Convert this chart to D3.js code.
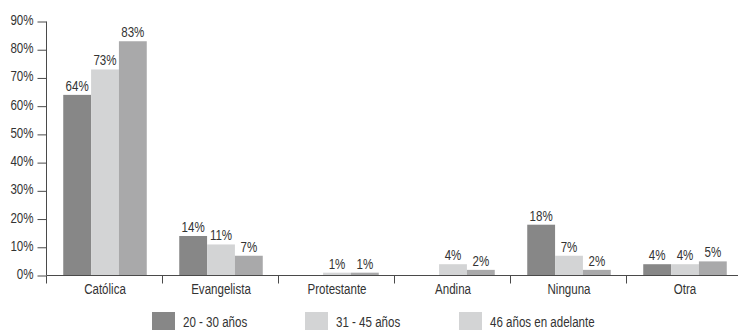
<!DOCTYPE html>
<html>
<head>
<meta charset="utf-8">
<script src="https://cdn.jsdelivr.net/npm/d3@7"></script>
<style>
  html, body { margin: 0; padding: 0; background: #fff; }
  svg { display: block; }
  text { font-family: "Liberation Sans", Arial, sans-serif; fill: #333; font-size: 15px; }
</style>
</head>
<body>
<svg id="chart" width="738" height="331"></svg>
<script>
// Religión por grupo de edad (porcentaje)
const categories = ["Católica", "Evangelista", "Protestante", "Andina", "Ninguna", "Otra"];
const seriesNames = ["20 - 30 años", "31 - 45 años", "46 años en adelante"];
const age20to30 = [64, 14, 0, 0, 18, 4];
const age31to45 = [73, 11, 1, 4, 7, 4];
const age46plus = [83, 7, 1, 2, 2, 5];
const yTicks = [0, 10, 20, 30, 40, 50, 60, 70, 80, 90];

const series = [age20to30, age31to45, age46plus];
const barColors = ["#878787", "#d3d4d5", "#a9a9aa"];
const legendColors = ["#878787", "#d3d4d5", "#d3d4d5"];

// condensed look: horizontally squeezed text
const squeeze = 0.77;
function placeText(sel, fx, fy) {
  sel.attr("x", 0).attr("y", 0)
     .attr("transform", (d, i) => `translate(${fx(d, i)},${fy(d, i)}) scale(${squeeze},1)`);
}

const svg = d3.select("#chart");
const x0 = 47, x1 = 743, yBase = 275.5, yTop = 21.5;

const x = d3.scaleBand().domain(categories).range([x0, x1]).paddingInner(0.28).paddingOuter(0.14);
const xs = d3.scaleBand().domain(d3.range(series.length)).range([0, x.bandwidth()]);
const y = d3.scaleLinear().domain([0, 90]).range([yBase, yTop]);

// bars and value labels
series.forEach((vals, si) => {
  const rows = categories.map((c, i) => ({ c, v: vals[i] })).filter(d => d.v > 0);
  const g = svg.append("g");
  g.selectAll("rect").data(rows).join("rect")
    .attr("x", d => x(d.c) + xs(si))
    .attr("y", d => y(d.v))
    .attr("width", xs.bandwidth())
    .attr("height", d => yBase - y(d.v))
    .attr("fill", barColors[si]);
  g.selectAll("text").data(rows).join("text")
    .attr("text-anchor", "middle")
    .call(placeText, d => x(d.c) + xs(si) + xs.bandwidth() / 2, d => y(d.v) - 4)
    .text(d => d.v + "%");
});

// y axis
const yAxis = d3.axisLeft(y).tickValues(yTicks).tickFormat(d => d + "%").tickSize(9).tickPadding(4);
const gy = svg.append("g").attr("transform", `translate(${x0 - 0.5},0)`).call(yAxis);
gy.select(".domain").attr("stroke", "#4a4a4a").attr("d", `M0,${yTop}V${yBase}`);
gy.selectAll(".tick line").attr("stroke", "#4a4a4a");
gy.selectAll(".tick text")
  .attr("font-size", null).attr("font-family", null).attr("fill", null)
  .attr("dy", null)
  .attr("text-anchor", "end")
  .call(placeText, () => -13, () => 3);

// x axis with category separators
const gx = svg.append("g");
gx.append("line").attr("x1", x0).attr("x2", x1).attr("y1", yBase).attr("y2", yBase).attr("stroke", "#4a4a4a");
gx.selectAll("line.sep").data(d3.range(categories.length + 1))
  .join("line").attr("class", "sep")
  .attr("x1", i => x0 - 0.5 + i * x.step())
  .attr("x2", i => x0 - 0.5 + i * x.step())
  .attr("y1", yBase).attr("y2", yBase + 8).attr("stroke", "#4a4a4a");
gx.selectAll("text").data(categories).join("text")
  .attr("text-anchor", "middle")
  .call(placeText, d => x(d) + x.bandwidth() / 2, () => 293.5)
  .text(d => d);

// legend
const legendX = [152, 305, 459];
const lg = svg.append("g");
seriesNames.forEach((n, i) => {
  lg.append("rect").attr("x", legendX[i]).attr("y", 312).attr("width", 23).attr("height", 18).attr("fill", legendColors[i]);
  lg.append("text").datum(n)
    .call(placeText, () => legendX[i] + 31, () => 326.5)
    .text(n);
});
</script>
</body>
</html>
